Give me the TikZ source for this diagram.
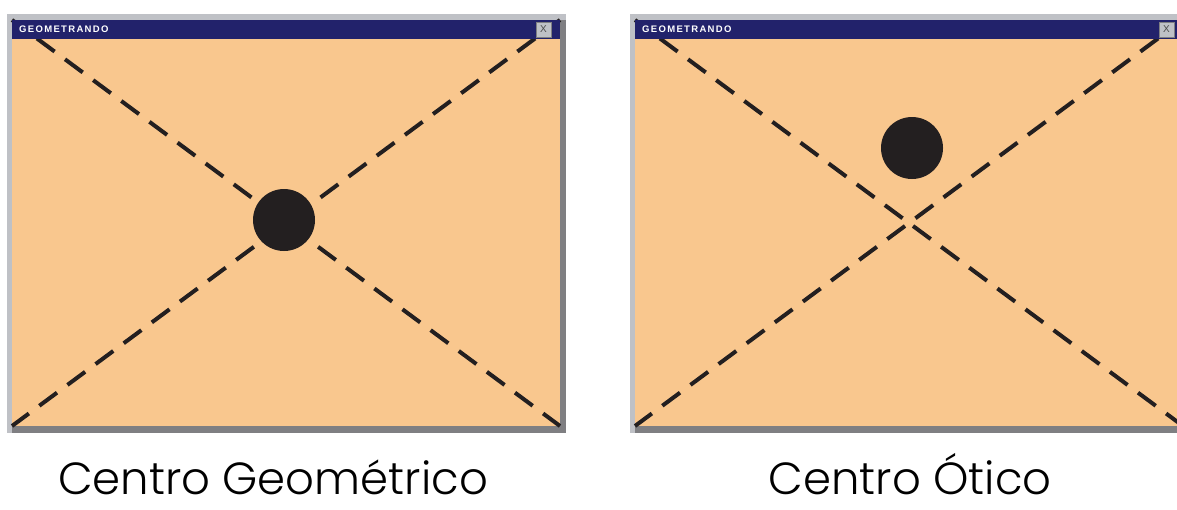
\documentclass[tikz,border=0pt]{standalone}
\usepackage{fontspec}
\IfFontExistsTF{Poppins Light}{\newfontfamily\capfont{Poppins Light}}{\newfontfamily\capfont{Poppins}}
\newfontfamily\barfont[LetterSpace=14]{Liberation Sans}
\newfontfamily\btnfont{Liberation Sans}
\definecolor{paper}{HTML}{F9C78E}
\definecolor{navy}{HTML}{22226B}
\definecolor{framelight}{HTML}{BFC1C6}
\definecolor{framedark}{HTML}{7F7F82}
\definecolor{ink}{HTML}{231F20}
\tikzset{
  diag/.style={draw=ink, line width=4pt, dash pattern=on 22pt off 13pt, dash phase=4pt},
  dot/.style={circle, fill=ink, inner sep=0pt, minimum width=60pt, minimum height=62pt},
  bartext/.style={text=white, font=\barfont\bfseries\fontsize{9.5}{10}\selectfont, anchor=west, inner sep=0pt},
  btn/.style={fill=framelight, draw=framedark, line width=0.6pt, text=black!70, font=\btnfont\fontsize{10}{10}\selectfont, minimum width=15pt, minimum height=15pt, inner sep=0pt},
  caption/.style={font=\capfont\fontsize{45}{50}\selectfont, text=black, anchor=base, inner sep=0pt},
  window/.pic={
    \fill[framelight] (0,0) rectangle (559,419);
    \fill[framedark] (553,6) rectangle (559,419);
    \fill[framedark] (5,412) rectangle (559,419);
    \fill[paper] (5,6) rectangle (553,412);
    \coordinate (-tl) at (5,6);
    \coordinate (-tr) at (553,6);
    \coordinate (-bl) at (5,412);
    \coordinate (-br) at (553,412);
    \draw[diag] (-tl) -- (-br);
    \draw[diag] (-tr) -- (-bl);
    \fill[navy] (5,6) rectangle (553,25);
    \node[bartext] (-title) at (12,15.5) {GEOMETRANDO};
    \node[btn] (-close) at (536.5,15.5) {X};
  }
}
\begin{document}
\begin{tikzpicture}[x=1pt,y=-1pt]
\useasboundingbox (0,0) rectangle (1177,509);
\fill[white] (0,0) rectangle (1177,509);
\begin{scope}
\clip (0,0) rectangle (1177,509);
\pic (winL) at (7,14) {window};
\pic (winR) at (630,14) {window};
\end{scope}
\node[dot] (dotL) at (284,220) {};
\node[dot] (dotR) at (912,148) {};
\node[caption] (capL) at (273,494) {Centro Geométrico};
\node[caption] (capR) at (910,494) {Centro Ótico};
\end{tikzpicture}
\end{document}
